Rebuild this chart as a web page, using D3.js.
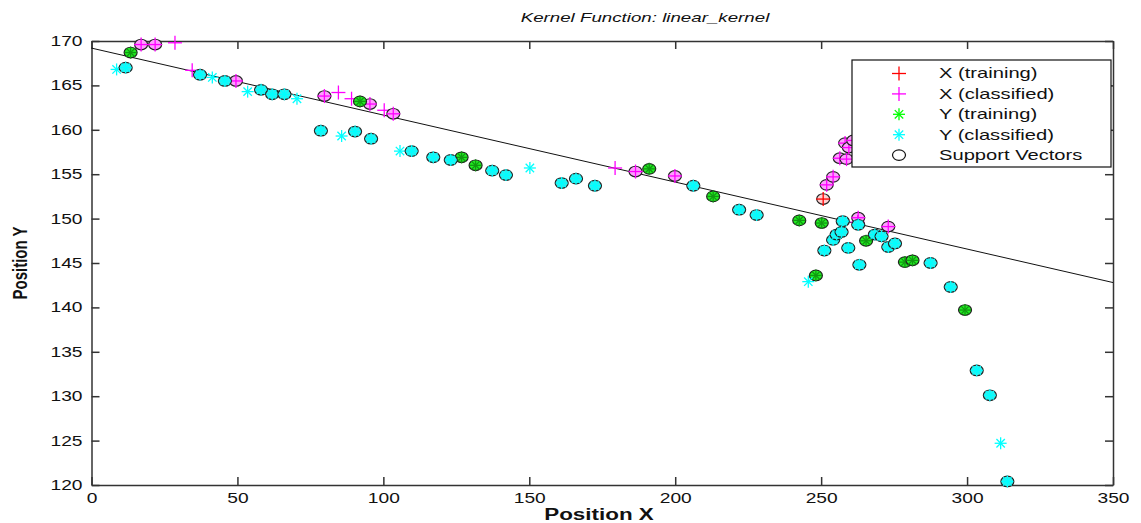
<!DOCTYPE html>
<html>
<head>
<meta charset="utf-8">
<script src="https://cdn.jsdelivr.net/npm/d3@7"></script>
<style>
  body { margin: 0; background: #fff; }
  text { font-family: Arial, "Liberation Sans", sans-serif; }
</style>
</head>
<body>
<div id="chart"></div>
<script>
// points: [x, y, isSupportVector]
var xTraining = [[250.7, 152.2, 1]];

var xClassified = [
  [17.0, 169.6, 1], [21.8, 169.6, 1], [28.6, 169.8, 0], [34.5, 166.7, 0],
  [49.5, 165.5, 1], [79.8, 163.8, 1], [84.6, 164.2, 0], [89.1, 163.5, 0],
  [95.4, 162.9, 1], [100.3, 162.2, 0], [103.4, 161.8, 1], [179.4, 155.7, 0],
  [186.4, 155.3, 1], [199.9, 154.8, 1], [251.9, 153.8, 1], [254.1, 154.7, 1],
  [256.4, 156.8, 1], [258.7, 156.7, 1], [258.2, 158.5, 1], [259.5, 158.0, 1],
  [261.0, 158.8, 1], [262.7, 150.1, 1], [262.5, 149.6, 0], [273.0, 149.1, 1]
];

var yTraining = [
  [13.4, 168.7, 1], [92.0, 163.2, 1], [126.8, 156.9, 1], [131.6, 156.0, 1],
  [191.1, 155.6, 1], [213.0, 152.5, 1], [242.5, 149.8, 1], [250.2, 149.5, 1],
  [265.4, 147.5, 1], [278.7, 145.1, 1], [281.3, 145.3, 1], [248.2, 143.6, 1],
  [299.3, 139.7, 1]
];

var yClassified = [
  [8.6, 166.8, 0], [11.7, 167.0, 1], [37.2, 166.2, 1], [41.4, 165.9, 0],
  [45.7, 165.5, 1], [53.5, 164.3, 0], [58.1, 164.5, 1], [61.9, 164.0, 1],
  [66.1, 164.0, 1], [70.4, 163.5, 0], [78.6, 159.9, 1], [85.7, 159.3, 0],
  [90.3, 159.8, 1], [95.8, 159.0, 1], [105.7, 157.6, 0], [109.7, 157.6, 1],
  [117.1, 156.9, 1], [123.1, 156.6, 1], [137.3, 155.4, 1], [142.0, 154.9, 1],
  [150.2, 155.7, 0], [161.1, 154.0, 1], [166.0, 154.5, 1], [172.5, 153.7, 1],
  [206.2, 153.7, 1], [221.9, 151.0, 1], [227.9, 150.4, 1], [257.4, 149.7, 1],
  [262.7, 149.3, 1], [254.1, 147.6, 1], [255.3, 148.2, 1], [257.0, 148.5, 1],
  [268.4, 148.2, 1], [270.7, 148.0, 1], [273.0, 146.8, 1], [275.3, 147.2, 1],
  [251.1, 146.4, 1], [259.3, 146.7, 1], [263.1, 144.8, 1], [287.5, 145.0, 1],
  [245.6, 142.9, 0], [294.4, 142.3, 1], [303.3, 132.9, 1], [307.8, 130.1, 1],
  [311.5, 124.7, 0], [313.8, 120.4, 1]
];

// separating line
var lineX = [0, 350];
var lineY = [169.2, 142.8];

var xTicks = [0, 50, 100, 150, 200, 250, 300, 350];
var yTicks = [120, 125, 130, 135, 140, 145, 150, 155, 160, 165, 170];

var legendLabels = ["X (training)", "X (classified)", "Y (training)", "Y (classified)", "Support Vectors"];

var width = 1141, height = 523;
var margin = {top: 41, right: 28, bottom: 38, left: 91.5};

var svg = d3.select("#chart")
    .append("svg")
    .attr("width", width)
    .attr("height", height);

var x = d3.scaleLinear().domain([0, 350]).range([margin.left, width - margin.right]);
var y = d3.scaleLinear().domain([120, 170]).range([height - margin.bottom, margin.top]);

// the picture is stretched sideways, so widen the glyphs the same way
function stretch(sel, sx) {
    sel.each(function () {
        var t = d3.select(this);
        var x0 = +t.attr("x") || 0;
        t.attr("x", x0 / sx).attr("transform", "scale(" + sx + ",1)");
    });
}

// axes (ticks inward, on all four sides)
function styleAxis(g) {
    g.selectAll("path").attr("stroke", "#333").attr("stroke-width", 1.5);
    g.selectAll("line").attr("stroke", "#333").attr("stroke-width", 1.5);
    g.selectAll("text").attr("font-size", 14).attr("fill", "#111");
}

svg.append("g")
    .attr("transform", "translate(0," + y(120) + ")")
    .call(d3.axisBottom(x).tickValues(xTicks).tickSizeInner(-8).tickSizeOuter(0).tickPadding(5))
    .call(styleAxis)
    .call(g => g.selectAll("text").attr("dy", "0.95em"))
    .call(g => stretch(g.selectAll("text"), 1.37));

svg.append("g")
    .attr("transform", "translate(0," + y(170) + ")")
    .call(d3.axisTop(x).tickValues(xTicks).tickSizeInner(-8).tickSizeOuter(0).tickFormat(""))
    .call(styleAxis);

svg.append("g")
    .attr("transform", "translate(" + x(0) + ",0)")
    .call(d3.axisLeft(y).tickValues(yTicks).tickSizeInner(-8).tickSizeOuter(0).tickPadding(9))
    .call(styleAxis)
    .call(g => stretch(g.selectAll("text"), 1.37));

svg.append("g")
    .attr("transform", "translate(" + x(350) + ",0)")
    .call(d3.axisRight(y).tickValues(yTicks).tickSizeInner(-8).tickSizeOuter(0).tickFormat(""))
    .call(styleAxis);

// separating line
svg.append("line")
    .attr("x1", x(lineX[0])).attr("y1", y(lineY[0]))
    .attr("x2", x(lineX[1])).attr("y2", y(lineY[1]))
    .attr("stroke", "#111")
    .attr("stroke-width", 1);

// marker shapes
function plus(g, color) {
    g.append("line").attr("x1", -7).attr("x2", 7).attr("y1", 0).attr("y2", 0)
        .attr("stroke", color).attr("stroke-width", 1.3);
    g.append("line").attr("x1", 0).attr("x2", 0).attr("y1", -7).attr("y2", 7)
        .attr("stroke", color).attr("stroke-width", 1.3);
}

function star(g, color) {
    var r = 6, d = 4.2;
    [[-r, 0, r, 0], [0, -r, 0, r], [-d, -d, d, d], [-d, d, d, -d]].forEach(function (s) {
        g.append("line").attr("x1", s[0]).attr("y1", s[1]).attr("x2", s[2]).attr("y2", s[3])
            .attr("stroke", color).attr("stroke-width", 1.3);
    });
}

function ring(g, fill) {
    g.append("ellipse")
        .attr("rx", 6.5).attr("ry", 5.3)
        .attr("fill", fill)
        .attr("stroke", "#222")
        .attr("stroke-width", 1.2);
}

var series = [
    {data: xTraining,   color: "#ff0000", fill: "#ffd0d0", shape: plus},
    {data: xClassified, color: "#ff00ff", fill: "#ff9cff", shape: plus},
    {data: yTraining,   color: "#00ff00", fill: "#22ee22", shape: star},
    {data: yClassified, color: "#00ffff", fill: "#30eeee", shape: star}
];

var plot = svg.append("g");

series.forEach(function (s) {
    var pts = plot.selectAll(null)
        .data(s.data)
        .enter()
        .append("g")
        .attr("transform", d => "translate(" + x(d[0]) + "," + y(d[1]) + ")");

    pts.each(function (d) {
        var g = d3.select(this);
        if (d[2]) ring(g, s.fill);
        s.shape(g, d[2] && s.color == "#00ff00" ? "#119911" : s.color);
    });
});

// legend
var legend = svg.append("g");
legend.append("rect")
    .attr("x", 852).attr("y", 60)
    .attr("width", 259).attr("height", 107)
    .attr("fill", "#fff")
    .attr("stroke", "#111")
    .attr("stroke-width", 1.2);

var legendShapes = [
    g => plus(g, "#ff0000"),
    g => plus(g, "#ff00ff"),
    g => star(g, "#00ff00"),
    g => star(g, "#00ffff"),
    g => g.append("ellipse").attr("rx", 6.5).attr("ry", 5.3).attr("fill", "none").attr("stroke", "#111").attr("stroke-width", 1.2)
];

legendLabels.forEach(function (label, i) {
    var ly = 73.5 + i * 20.4;
    var g = legend.append("g").attr("transform", "translate(899," + ly + ")");
    legendShapes[i](g);
    legend.append("text")
        .attr("x", 939).attr("y", ly)
        .attr("dy", "0.35em")
        .attr("font-size", 14)
        .attr("fill", "#111")
        .text(label)
        .call(t => stretch(t, 1.44));
});

// title and axis labels
svg.append("text")
    .attr("x", 645).attr("y", 22)
    .attr("text-anchor", "middle")
    .attr("font-size", 13)
    .attr("font-style", "italic")
    .attr("fill", "#111")
    .text("Kernel Function: linear_kernel")
    .call(t => stretch(t, 1.44));

svg.append("text")
    .attr("x", 599).attr("y", 520)
    .attr("text-anchor", "middle")
    .attr("font-size", 16)
    .attr("font-weight", "bold")
    .attr("fill", "#111")
    .text("Position X")
    .call(t => stretch(t, 1.4));

svg.append("text")
    .attr("transform", "translate(27,263) scale(1.4,1) rotate(-90)")
    .attr("text-anchor", "middle")
    .attr("font-size", 15)
    .attr("font-weight", "bold")
    .attr("fill", "#111")
    .text("Position Y");
</script>
</body>
</html>
